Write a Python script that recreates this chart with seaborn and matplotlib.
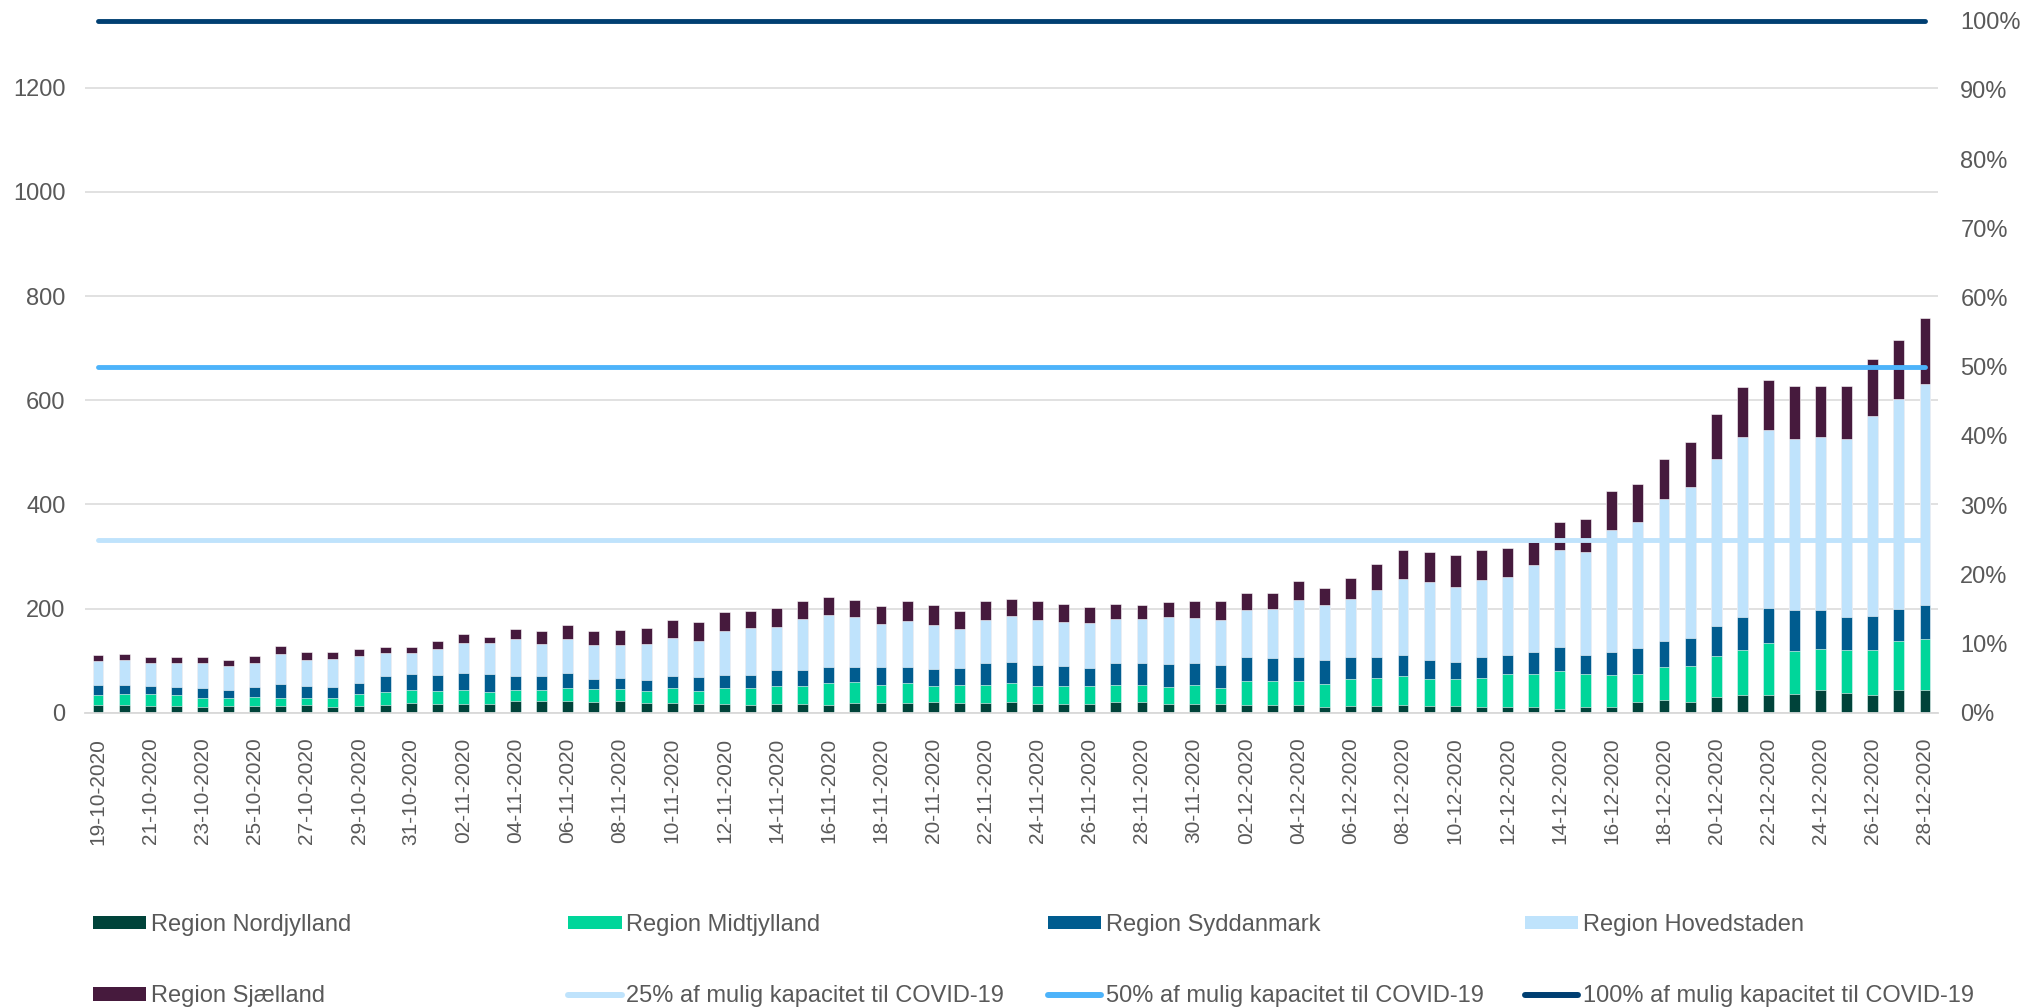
import numpy as np
import pandas as pd
import matplotlib
matplotlib.use("Agg")
import matplotlib.pyplot as plt
import seaborn as sns
from matplotlib.lines import Line2D
from matplotlib.patches import Patch
from matplotlib.ticker import PercentFormatter

# daily labels 19-10-2020 .. 28-12-2020
dates = pd.date_range("2020-10-19", "2020-12-28").strftime("%d-%m-%Y").tolist()

nordjylland = [15, 15, 13, 12, 11, 13, 13, 13, 15, 10, 13, 15, 18, 17, 17, 17, 22, 22,
               22, 20, 22, 19, 19, 17, 17, 15, 17, 17, 15, 18, 19, 19, 20, 18, 18, 20,
               17, 16, 16, 20, 20, 16, 16, 16, 15, 15, 15, 11, 13, 13, 15, 13, 13, 11,
               10, 10, 7, 10, 11, 20, 24, 20, 31, 33, 33, 35, 43, 37, 33, 43, 44]
midtjylland = [19, 20, 22, 21, 18, 16, 17, 16, 13, 18, 22, 25, 26, 25, 27, 22, 21, 22,
               26, 25, 23, 22, 28, 24, 30, 33, 35, 34, 41, 41, 35, 37, 31, 35, 36, 36,
               35, 35, 35, 34, 33, 33, 37, 32, 45, 46, 46, 44, 51, 54, 56, 51, 51, 56,
               65, 65, 73, 64, 61, 55, 64, 70, 78, 88, 100, 84, 79, 83, 87, 94, 97]
syddanmark = [20, 19, 17, 17, 18, 15, 19, 26, 24, 22, 22, 31, 30, 30, 32, 35, 27, 26,
              28, 19, 21, 21, 23, 27, 26, 25, 29, 31, 31, 28, 33, 31, 33, 32, 42, 41,
              40, 38, 35, 41, 43, 44, 42, 43, 47, 44, 46, 47, 43, 40, 40, 37, 34, 39,
              35, 41, 47, 37, 44, 49, 50, 54, 57, 62, 68, 78, 76, 64, 65, 63, 65]
hovedstaden = [46, 47, 43, 46, 48, 46, 47, 58, 49, 54, 51, 43, 41, 50, 57, 59, 71, 62,
               65, 66, 63, 70, 74, 70, 83, 89, 83, 97, 100, 96, 84, 89, 84, 75, 81, 88,
               86, 86, 86, 84, 83, 90, 86, 86, 90, 94, 109, 104, 112, 128, 146, 149, 143, 148,
               151, 167, 186, 197, 234, 242, 272, 290, 321, 347, 341, 329, 332, 342, 384, 402, 426]
sjaelland = [10, 12, 11, 11, 12, 12, 13, 15, 15, 13, 14, 13, 12, 15, 18, 13, 19, 25,
             27, 27, 29, 30, 33, 37, 38, 33, 37, 35, 36, 33, 34, 38, 38, 36, 37, 33,
             36, 33, 30, 29, 27, 30, 34, 38, 33, 30, 36, 34, 40, 50, 55, 59, 61, 59,
             55, 44, 54, 63, 75, 73, 78, 86, 87, 96, 97, 102, 97, 102, 111, 113, 125]

regions = ["Region Nordjylland", "Region Midtjylland", "Region Syddanmark",
           "Region Hovedstaden", "Region Sjælland"]
region_colors = ["#00433A", "#00D69A", "#005C8F", "#BFE3FC", "#461A3D"]

# capacity lines (right axis, share of possible COVID-19 capacity)
capacity = 1329
levels = [0.25, 0.5, 1.0]
level_labels = ["25% af mulig kapacitet til COVID-19",
                "50% af mulig kapacitet til COVID-19",
                "100% af mulig kapacitet til COVID-19"]
level_colors = ["#BFE3FC", "#4DB3FA", "#003F72"]

sns.set_style("white")
plt.rcParams["font.family"] = ["Liberation Sans", "DejaVu Sans"]
grey = "#595959"

df = pd.DataFrame({"dato": dates, regions[0]: nordjylland, regions[1]: midtjylland,
                   regions[2]: syddanmark, regions[3]: hovedstaden, regions[4]: sjaelland})
cum = df[regions].cumsum(axis=1)

fig = plt.figure(figsize=(20.23, 10.08), dpi=100)
ax = fig.add_axes([0.042, 0.293, 0.916, 0.6865])

# stacked bars: draw cumulative totals from top layer down
for reg, col in reversed(list(zip(regions, region_colors))):
    sns.barplot(x=df["dato"], y=cum[reg], color=col, saturation=1, width=0.42,
                edgecolor="white", linewidth=0.4, ax=ax)

ax.set_ylim(0, capacity)
ax.set_xlim(-0.5, len(dates) - 0.5)
ax.set_yticks(range(0, 1201, 200))
ax.yaxis.grid(True, color="#D9D9D9", linewidth=1.1)
ax.set_axisbelow(True)
ax.set_xlabel("")
ax.set_ylabel("")
ax.set_xticks(range(0, len(dates), 2))
ax.set_xticklabels(dates[::2], rotation=90, fontsize=15, color=grey)
ax.tick_params(axis="x", length=0, pad=18)
ax.tick_params(axis="y", length=0, pad=14, labelsize=17, labelcolor=grey)
for s in ["top", "right", "left"]:
    ax.spines[s].set_visible(False)
ax.spines["bottom"].set_color("#D9D9D9")
ax.spines["bottom"].set_linewidth(1.3)

ax2 = ax.twinx()
x_pos = np.arange(len(dates))
for lvl, col in zip(levels, level_colors):
    sns.lineplot(x=x_pos, y=[lvl] * len(dates), color=col, linewidth=3.5,
                 solid_capstyle="round", ax=ax2, clip_on=False)
ax2.set_ylim(0, 1)
ax2.set_yticks(np.linspace(0, 1, 11))
ax2.yaxis.set_major_formatter(PercentFormatter(1.0, decimals=0))
ax2.tick_params(axis="y", length=0, pad=16, labelsize=17, labelcolor=grey)
for s in ax2.spines.values():
    s.set_visible(False)

# legend: 4 columns, 2 rows, placed like the original
bar_handles = [Patch(facecolor=c, edgecolor="none") for c in region_colors]
line_handles = [Line2D([0], [0], color=c, linewidth=4.3, solid_capstyle="round")
                for c in level_colors]
handles = bar_handles + line_handles
labels = regions + level_labels
col_x = [0.046, 0.281, 0.518, 0.754]
for i, x in enumerate(col_x):
    fig.legend([handles[i], handles[i + 4]], [labels[i], labels[i + 4]],
               loc="center left", bbox_to_anchor=(x, 0.047), frameon=False,
               fontsize=17, labelcolor=grey, handlelength=2.25, handleheight=0.5,
               handletextpad=0.2, labelspacing=2.1, borderpad=0, borderaxespad=0)

fig.savefig("out.png", dpi=100)
